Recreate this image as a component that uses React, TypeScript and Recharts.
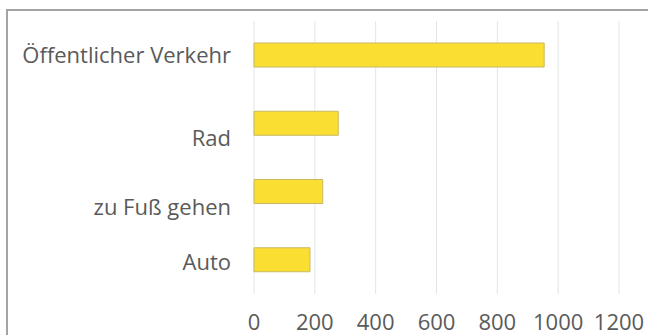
import React from 'react';
import { BarChart, Bar, XAxis, YAxis, CartesianGrid } from 'recharts';

const categories = ['Öffentlicher Verkehr', 'Rad', 'zu Fuß gehen', 'Auto'];
const values = [954, 277, 226, 184];
const xTicks = [0, 200, 400, 600, 800, 1000, 1200];

const data = categories.map((name, i) => ({ name, value: values[i] }));

const FONT = "'Open Sans', sans-serif";
const TEXT = '#5a5a5a';
// small vertical nudges of the category labels, as in the reference picture
const labelNudge = [0, 15, 16, 2];

const CategoryTick = (props: any) => {
  const { x, y, payload, index } = props;
  return (
    <text
      x={x}
      y={y + (labelNudge[index] || 0)}
      dy="0.355em"
      textAnchor="end"
      fontSize={22}
      fontFamily={FONT}
      fill={TEXT}
    >
      {payload.value}
    </text>
  );
};

export default function App() {
  return (
    <div style={{ position: 'fixed', left: 0, top: 0, width: 648, height: 335, background: '#fff', overflow: 'hidden' }}>
      <div style={{ position: 'absolute', left: 6, top: 9, width: 700, height: 400, border: '2px solid #a3a3a3', boxSizing: 'border-box' }} />
      <div style={{ position: 'absolute', left: 0, top: 0 }}>
        <BarChart
          width={648}
          height={335}
          data={data}
          layout="vertical"
          margin={{ top: 21, right: 29, bottom: 0, left: 0 }}
          barSize={24}
        >
          <CartesianGrid horizontal={false} stroke="#e3e5e5" />
          <XAxis
            type="number"
            domain={[0, 1200]}
            ticks={xTicks}
            axisLine={false}
            tickLine={false}
            tickMargin={14}
            height={41}
            interval={0}
            tick={{ fontSize: 22, fill: TEXT, fontFamily: FONT }}
          />
          <YAxis
            type="category"
            dataKey="name"
            width={254}
            axisLine={false}
            tickLine={false}
            tickMargin={17}
            interval={0}
            tick={<CategoryTick />}
          />
          <Bar dataKey="value" fill="#FADF32" stroke="#c9b862" strokeWidth={1} isAnimationActive={false} />
        </BarChart>
      </div>
    </div>
  );
}
